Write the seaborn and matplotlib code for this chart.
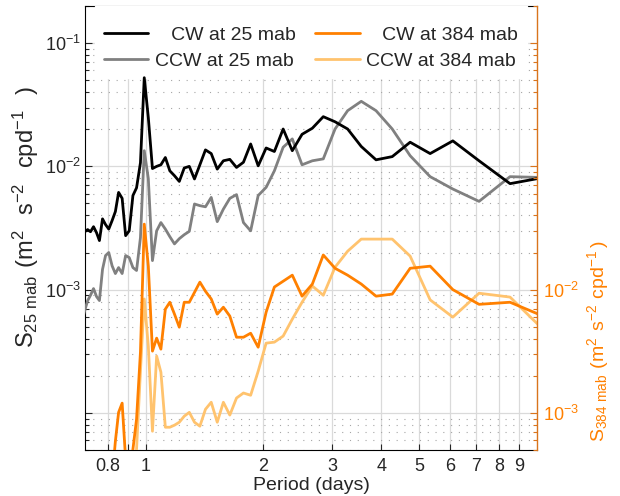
import numpy as np
import pandas as pd
import matplotlib
matplotlib.use("Agg")
import matplotlib.pyplot as plt
from matplotlib.lines import Line2D
from matplotlib.ticker import FixedLocator, FixedFormatter, FuncFormatter, NullLocator, LogLocator, NullFormatter
import seaborn as sns

# ---------------- data ----------------
period = [10.667, 8.533, 7.111, 6.095, 5.333, 4.741, 4.267, 3.879, 3.556, 3.282,
          3.048, 2.844, 2.667, 2.510, 2.370, 2.246, 2.133, 2.032, 1.939, 1.855,
          1.778, 1.707, 1.641, 1.580, 1.524, 1.471, 1.422, 1.376, 1.333, 1.293,
          1.255, 1.219, 1.185, 1.153, 1.123, 1.094, 1.067, 1.041, 1.016, 0.992,
          0.970, 0.948, 0.928, 0.908, 0.889, 0.871, 0.853, 0.837, 0.821, 0.805,
          0.790, 0.776, 0.762, 0.749, 0.736, 0.723, 0.711, 0.699, 0.688]

cw_25 = [8.25e-3, 7.24e-3, 1.11e-2, 1.61e-2, 1.27e-2, 1.57e-2, 1.20e-2, 1.13e-2, 1.45e-2, 2.01e-2,
         2.30e-2, 2.53e-2, 2.04e-2, 1.82e-2, 1.34e-2, 2.01e-2, 1.32e-2, 1.41e-2, 1.01e-2, 1.52e-2,
         1.08e-2, 9.8e-3, 1.14e-2, 1.11e-2, 9.5e-3, 1.27e-2, 1.36e-2, 1.03e-2, 7.9e-3, 1.0e-2,
         9.7e-3, 7.55e-3, 8.4e-3, 9.2e-3, 1.18e-2, 1.03e-2, 1.0e-2, 9.6e-3, 2.48e-2, 5.24e-2,
         1.07e-2, 6.7e-3, 5.8e-3, 3.0e-3, 2.74e-3, 5.5e-3, 6.15e-3, 4.3e-3, 3.63e-3, 3.1e-3,
         3.37e-3, 3.75e-3, 2.5e-3, 2.9e-3, 3.24e-3, 2.95e-3, 3.07e-3, 2.95e-3, 3.0e-3]

ccw_25 = [8.1e-3, 8.25e-3, 5.2e-3, 6.55e-3, 8.25e-3, 1.22e-2, 2.01e-2, 2.83e-2, 3.37e-2, 2.83e-2,
          2.01e-2, 1.15e-2, 1.11e-2, 1.03e-2, 1.67e-2, 1.43e-2, 9.2e-3, 6.76e-3, 5.8e-3, 3.0e-3,
          3.5e-3, 5.9e-3, 5.5e-3, 4.5e-3, 3.56e-3, 5.6e-3, 4.7e-3, 4.8e-3, 4.95e-3, 2.97e-3,
          2.79e-3, 2.59e-3, 2.35e-3, 2.69e-3, 3.1e-3, 3.5e-3, 3.0e-3, 1.72e-3, 7.95e-3, 1.34e-2,
          2.64e-3, 1.43e-3, 1.51e-3, 1.82e-3, 1.89e-3, 1.35e-3, 1.51e-3, 1.35e-3, 1.56e-3, 2.0e-3,
          1.89e-3, 1.46e-3, 8.15e-4, 8.8e-4, 1.02e-3, 9.0e-4, 8.15e-4, 6.76e-4, 5.6e-4]

cw_384 = [5.87e-3, 7.9e-3, 7.6e-3, 1.0e-2, 1.55e-2, 1.49e-2, 9.2e-3, 8.85e-3, 1.11e-2, 1.31e-2,
          1.49e-2, 1.91e-2, 1.11e-2, 8.85e-3, 1.31e-2, 1.17e-2, 1.05e-2, 6.57e-3, 3.41e-3, 4.43e-3,
          4.11e-3, 4.11e-3, 6.1e-3, 7.2e-3, 6.33e-3, 8.4e-3, 9.7e-3, 1.15e-2, 9.5e-3, 7.9e-3,
          7.9e-3, 4.96e-3, 6.33e-3, 7.9e-3, 6.95e-3, 3.29e-3, 4.04e-3, 3.17e-3, 1.55e-2, 3.4e-2,
          3.11e-3, 8.9e-4, 5.07e-4, 2.9e-4, 4.2e-4, 1.2e-3, 1.01e-3, 5.9e-4, 2.9e-4, 2.5e-4,
          2.5e-4, 2.5e-4, 2.5e-4, 2.5e-4, 2.5e-4, 2.5e-4, 2.5e-4, 2.5e-4, 2.5e-4]

ccw_384 = [4.35e-3, 8.7e-3, 9.35e-3, 5.98e-3, 8.26e-3, 1.87e-2, 2.57e-2, 2.57e-2, 2.57e-2, 2.05e-2,
           1.52e-2, 9.0e-3, 1.07e-2, 7.9e-3, 5.76e-3, 4.2e-3, 3.75e-3, 3.68e-3, 2.18e-3, 1.39e-3,
           1.45e-3, 1.32e-3, 9.6e-4, 1.22e-3, 8.4e-4, 1.22e-3, 1.07e-3, 7.8e-4, 8.4e-4, 1.01e-3,
           9.4e-4, 8.4e-4, 7.95e-4, 7.65e-4, 7.65e-4, 2.14e-3, 2.89e-3, 7.1e-4, 3.48e-3, 8.4e-3,
           2.18e-3, 5.07e-4, 3.2e-4, 2.5e-4, 2.5e-4, 2.5e-4, 2.5e-4, 2.5e-4, 2.5e-4, 2.5e-4,
           2.5e-4, 2.5e-4, 2.5e-4, 2.5e-4, 2.5e-4, 2.5e-4, 2.5e-4, 2.5e-4, 2.5e-4]

series_names = ["CW at 25 mab", "CCW at 25 mab", "CW at 384 mab", "CCW at 384 mab"]
legend_text = ["   CW at 25 mab", "CCW at 25 mab", "   CW at 384 mab", "CCW at 384 mab"]
x_ticks = [0.8, 0.9, 1, 2, 3, 4, 5, 6, 7, 8, 9]
x_ticklabels = ["0.8", "", "1", "2", "3", "4", "5", "6", "7", "8", "9"]

colors = {"CW at 25 mab": "#000000", "CCW at 25 mab": "#808080",
          "CW at 384 mab": "#FF8000", "CCW at 384 mab": "#FFC36E"}
orange_text = "#FF8000"
orange_spine = "#D9741C"

# ---------------- style ----------------
sns.set_style("white")
plt.rcParams["font.family"] = ["Liberation Sans", "DejaVu Sans"]
plt.rcParams["axes.unicode_minus"] = False

fig = plt.figure(figsize=(6.2, 4.96), dpi=100)
ax = fig.add_axes([85 / 620, 1 - 450 / 496, (537 - 85) / 620, (450 - 6) / 496])
ax2 = ax.twinx()

for a in (ax, ax2):
    a.set_xscale("log")
    a.set_yscale("log")

df25 = pd.concat([
    pd.DataFrame({"period": period, "S": cw_25, "series": series_names[0]}),
    pd.DataFrame({"period": period, "S": ccw_25, "series": series_names[1]}),
])
df384 = pd.concat([
    pd.DataFrame({"period": period, "S": cw_384, "series": series_names[2]}),
    pd.DataFrame({"period": period, "S": ccw_384, "series": series_names[3]}),
])

sns.lineplot(data=df25, x="period", y="S", hue="series", hue_order=series_names[:2][::-1],
             palette=colors, estimator=None, sort=False, lw=2.0, legend=False, ax=ax)
sns.lineplot(data=df384, x="period", y="S", hue="series", hue_order=series_names[2:][::-1],
             palette=colors, estimator=None, sort=False, lw=2.0, legend=False, ax=ax2)
for ln in ax.get_lines():
    ln.set_zorder(6)

ax.set_xlim(0.7, 10)
ax.set_ylim(5e-5, 0.2)
ax2.set_ylim(5e-4, 2)

# x axis
ax.xaxis.set_major_locator(FixedLocator(x_ticks))
ax.xaxis.set_major_formatter(FixedFormatter(x_ticklabels))
ax.xaxis.set_minor_locator(NullLocator())
ax.set_xlabel("Period (days)", fontsize=14, labelpad=1)

# y axes
def left_fmt(v, pos):
    e = int(round(np.log10(v)))
    return r"$\mathregular{10^{%d}}$" % e if e in (-1, -2, -3) else ""

def right_fmt(v, pos):
    e = int(round(np.log10(v)))
    return r"$\mathregular{10^{%d}}$" % e if e in (-2, -3) else ""

for a, fmt in ((ax, left_fmt), (ax2, right_fmt)):
    a.yaxis.set_major_locator(LogLocator(base=10, numticks=20))
    a.yaxis.set_minor_locator(LogLocator(base=10, subs=np.arange(2, 10), numticks=20))
    a.yaxis.set_major_formatter(FuncFormatter(fmt))
    a.yaxis.set_minor_formatter(NullFormatter())

ax.tick_params(axis="x", which="both", direction="in", top=True, bottom=True,
               length=4, width=0.8, labelsize=13, pad=6)
ax.tick_params(axis="y", which="major", direction="in", left=True, right=False,
               length=5, width=0.8, labelsize=13, pad=3)
ax.tick_params(axis="y", which="minor", direction="in", left=True, right=False,
               length=3, width=0.8)
ax2.tick_params(axis="y", which="major", direction="in", right=True, length=5, width=0.8,
                color=orange_spine, labelcolor=orange_text, labelsize=13, pad=4)
ax2.tick_params(axis="y", which="minor", direction="in", right=True, length=3, width=0.8,
                color=orange_spine)

ax.set_ylabel(r"$\mathregular{S_{25\ mab}\ (m^2\ \ s^{-2}\ \ cpd^{-1}\ \ )}$", fontsize=17)
ax.yaxis.set_label_coords(-0.098, 0.524)
ax2.set_ylabel(r"$\mathregular{S_{384\ mab}\ (m^2\ s^{-2}\ cpd^{-1}\,)}$", fontsize=14,
               color=orange_text)
ax2.yaxis.set_label_coords(1.106, 0.245)

# spines
for s in ("left", "bottom", "top"):
    ax.spines[s].set_color("black")
    ax.spines[s].set_linewidth(0.8)
ax.spines["right"].set_visible(False)
for s in ("left", "bottom", "top"):
    ax2.spines[s].set_visible(False)
ax2.spines["right"].set_color(orange_spine)
ax2.spines["right"].set_linewidth(1.0)

# grid
ax.grid(which="major", axis="both", color="#dadada", lw=0.9, ls="-")
ax.grid(which="minor", axis="y", color="#a6a6a6", lw=0.8, ls=(0, (1, 6)))
ax.set_axisbelow(True)

# legend
handles = [Line2D([], [], color=colors[n], lw=2.0) for n in series_names]
leg = ax.legend(handles, legend_text, ncol=2, loc="upper left",
                bbox_to_anchor=(0.022, 0.0, 0.956, 1.0), mode="expand",
                fontsize=14, frameon=True, fancybox=False, framealpha=1.0,
                facecolor="white", edgecolor="white", borderpad=0.45,
                borderaxespad=0.0, handlelength=2.3, handletextpad=0.35,
                labelspacing=0.4, columnspacing=1.0,
                title=" ", title_fontsize=3)
leg.set_zorder(5)

fig.savefig("out.png", dpi=100)
